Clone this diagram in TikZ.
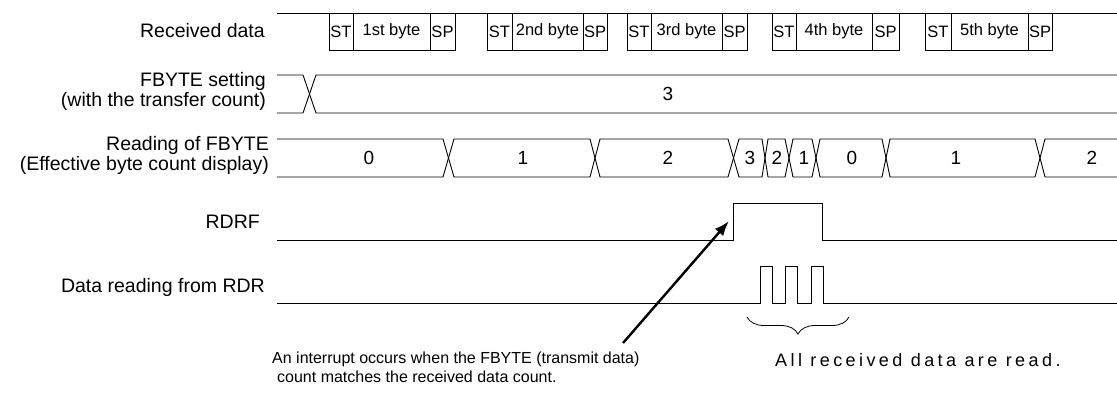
\documentclass[tikz,border=0pt]{standalone}
\usepackage{fontspec}
\setmainfont{Liberation Sans}
\usetikzlibrary{arrows.meta,decorations.pathreplacing}
\begin{document}
\begin{tikzpicture}[x=1pt,y=-1pt,
  sig/.style={line width=0.9pt,black},
  lbl/.style={anchor=east,inner sep=0pt,align=right,font=\fontsize{19.5}{19.5}\selectfont},
  boxtxt/.style={inner sep=0pt,font=\fontsize{16.5}{16.5}\selectfont},
  num/.style={inner sep=0pt,font=\fontsize{19}{19}\selectfont},
  note/.style={anchor=west,inner sep=0pt,font=\fontsize{16}{16}\selectfont},
  arr/.style={line width=2.4pt,-{Latex[length=15pt,width=11pt]}}]
\useasboundingbox (0,0) rectangle (1117,392);
\fill[white] (0,0) rectangle (1117,392);

% ---------- Received data ----------
\node[lbl] (lrx) at (265,31) {Received data};
\draw[sig] (277,13) -- (1117,13);
\foreach \a/\b/\c/\d/\t [count=\i] in {329/353/430/455/1st byte,487/512/583/607/2nd byte,627/651/722/747/3rd byte,772/796/872/899/4th byte,925/951/1028/1052/5th byte}{
  \draw[sig] (\a,13) rectangle (\b,50);
  \draw[sig] (\b,13) rectangle (\c,50);
  \draw[sig] (\c,13) rectangle (\d,50);
  \node[boxtxt] (st\i) at ({(\a+\b)/2},31.5) {ST};
  \node[boxtxt] (by\i) at ({(\b+\c)/2},31.5) {\t};
  \node[boxtxt] (sp\i) at ({(\c+\d)/2},31.5) {SP};
}

% ---------- FBYTE setting ----------
\node[lbl] (lfs) at (266,91.5) {FBYTE setting\\(with the transfer count)};
\draw[sig] (277,75) -- (303,75) -- (316,113) -- (1117,113);
\draw[sig] (277,113) -- (303,113) -- (316,75) -- (1117,75);
\node[num] (n3) at (668,94) {3};

% ---------- Reading of FBYTE ----------
\node[lbl] (lfr) at (269,155.5) {Reading of FBYTE\\(Effective byte count display)};
\draw[sig] (277,139) -- (443,139) -- (454,177) -- (590,177) -- (600,139) -- (728,139) -- (739,177)
  -- (762,177) -- (768,139) -- (785,139) -- (793,177) -- (812,177) -- (820,139) -- (882,139)
  -- (890,177) -- (1035,177) -- (1045,139) -- (1117,139);
\draw[sig] (277,177) -- (443,177) -- (454,139) -- (590,139) -- (600,177) -- (728,177) -- (739,139)
  -- (762,139) -- (768,177) -- (785,177) -- (793,139) -- (812,139) -- (820,177) -- (882,177)
  -- (890,139) -- (1035,139) -- (1045,177) -- (1117,177);
\node[num] (r0) at (369,158) {0};
\node[num] (r1) at (523,158) {1};
\node[num] (r2) at (668,158) {2};
\node[num] (r3) at (750,158) {3};
\node[num] (r4) at (777,158) {2};
\node[num] (r5) at (804,158) {1};
\node[num] (r6) at (852,158) {0};
\node[num] (r7) at (956,158) {1};
\node[num] (r8) at (1092,158) {2};

% ---------- RDRF ----------
\node[lbl] (lrd) at (260,222) {RDRF};
\draw[sig] (277,240) -- (733,240) -- (733,203) -- (822,203) -- (822,240) -- (1117,240);

% ---------- Data reading from RDR ----------
\node[lbl] (ldr) at (265,287) {Data reading from RDR};
\draw[sig] (277,303) -- (760,303) -- (760,266) -- (772,266) -- (772,303) -- (785,303) -- (785,266)
  -- (797,266) -- (797,303) -- (811,303) -- (811,266) -- (823,266) -- (823,303) -- (1117,303);

% ---------- brace & notes ----------
\coordinate (bl) at (747,317);
\coordinate (br) at (849,317);
\draw[line width=0.8pt,decorate,decoration={brace,mirror,amplitude=17pt}] (bl) -- (br);
\node[note,font=\fontsize{18}{18}\selectfont\addfontfeature{LetterSpace=19}] (all) at (775,360) {All received data are read.};

\coordinate (tail) at (623,343);
\coordinate (tip) at (729,221);
\draw[arr] (tail) -- (tip);
\node[note] (int1) at (272,359) {An interrupt occurs when the FBYTE (transmit data)};
\node[note] (int2) at (277,377) {count matches the received data count.};
\end{tikzpicture}
\end{document}
